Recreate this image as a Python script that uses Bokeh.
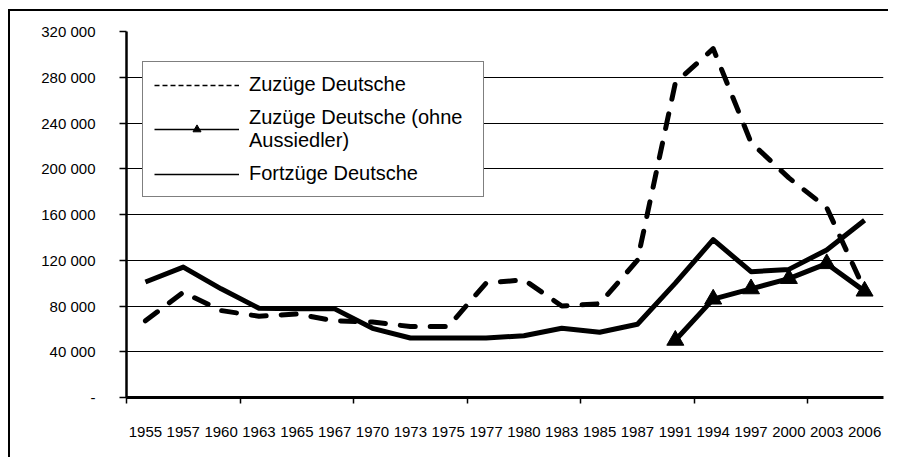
from bokeh.plotting import figure
from bokeh.models import (Range1d, LinearAxis, FixedTicker,
                          Legend, LegendItem, ColumnDataSource, Grid)
from bokeh.embed import file_html
from bokeh.resources import INLINE

# ---- data ----
years = ["1955", "1957", "1960", "1963", "1965", "1967", "1970", "1973", "1975", "1977",
         "1980", "1983", "1985", "1987", "1991", "1994", "1997", "2000", "2003", "2006"]
zuzuege_deutsche = [67000, 92000, 76000, 71000, 73000, 67000, 66000, 62000, 62000, 100000,
                    103000, 80000, 82000, 120000, 275000, 305000, 223000, 192000, 166000, 94000]
fortzuege_deutsche = [101000, 114000, 95000, 78000, 77500, 77500, 60500, 52000, 52000, 52000,
                      54000, 60500, 57000, 64000, 100000, 138000, 110000, 112000, 129000, 155000]
ohne_years = ["1991", "1994", "1997", "2000", "2003", "2006"]
zuzuege_ohne_aussiedler = [50000, 86000, 95000, 104000, 117000, 93000]

y_ticks = [0, 40000, 80000, 120000, 160000, 200000, 240000, 280000, 320000]
y_tick_labels = ["-", "40 000", "80 000", "120 000", "160 000", "200 000",
                 "240 000", "280 000", "320 000"]
legend_labels = ["Zuzüge Deutsche", "Zuzüge Deutsche (ohne\nAussiedler)", "Fortzüge Deutsche"]

FONT = "Liberation Sans"
NAN = float("nan")

# categories are laid out as slots 0..N, each category at the slot centre
n = len(years)
x_center = [i + 0.5 for i in range(n)]
ohne_x = [years.index(y) + 0.5 for y in ohne_years]

p = figure(width=880, height=448,
           x_range=Range1d(0, n), y_range=Range1d(y_ticks[0], y_ticks[-1]),
           output_backend="svg", toolbar_location=None,
           x_axis_location=None, y_axis_location=None,
           min_border_left=116, min_border_right=7, min_border_top=20, min_border_bottom=62)
p.outline_line_color = None
p.background_fill_color = "white"
p.border_fill_color = "white"
p.styles = {"margin-left": "8px", "margin-top": "9px",
            "border-left": "2px solid black", "border-top": "2px solid black"}
for g in p.grid:
    g.visible = False

# x axis: labels at category centres, tick marks (minor) at every 3rd category boundary
xaxis = LinearAxis(ticker=FixedTicker(ticks=x_center, minor_ticks=list(range(0, n, 3))),
                   major_label_overrides={x: y for x, y in zip(x_center, years)},
                   axis_line_width=3, axis_line_color="black",
                   major_tick_line_color=None, major_tick_out=0, major_tick_in=0,
                   minor_tick_line_color="black", minor_tick_line_width=1.5,
                   minor_tick_out=6, minor_tick_in=0,
                   major_label_standoff=23, major_label_text_font=FONT,
                   major_label_text_font_size="15px", major_label_text_color="black")
p.add_layout(xaxis, "below")

yaxis = LinearAxis(ticker=FixedTicker(ticks=y_ticks),
                   major_label_overrides={t: l for t, l in zip(y_ticks, y_tick_labels)},
                   axis_line_width=2.5, axis_line_color="black",
                   major_tick_out=7, major_tick_in=0, major_tick_line_width=1.5,
                   major_tick_line_color="black", minor_tick_line_color=None,
                   major_label_standoff=24, major_label_text_font=FONT,
                   major_label_text_font_size="15px", major_label_text_color="black")
p.add_layout(yaxis, "left")
p.add_layout(Grid(dimension=1, ticker=yaxis.ticker, grid_line_color="black", grid_line_width=1))

src = ColumnDataSource(dict(x=x_center, zuz=zuzuege_deutsche, fort=fortzuege_deutsche))
src2 = ColumnDataSource(dict(x=ohne_x, val=zuzuege_ohne_aussiedler))

p.line("x", "zuz", source=src, line_width=5, line_color="black",
       line_dash="15 15", line_cap="round", line_join="round")
p.line("x", "fort", source=src, line_width=5, line_color="black", line_join="round")
p.line("x", "val", source=src2, line_width=5, line_color="black", line_join="round")
p.scatter("x", "val", source=src2, marker="triangle", size=17,
          fill_color="black", line_color="black")

# thin legend samples (renderers with no visible data)
leg_zuz = p.line(x=[NAN], y=[NAN], line_width=1.5, line_color="black", line_dash="5 3")
leg_ohne_l = p.line(x=[NAN], y=[NAN], line_width=1.5, line_color="black")
leg_ohne_m = p.scatter(x=[NAN], y=[NAN], marker="triangle", size=12,
                       fill_color="black", line_color="black")
leg_fort = p.line(x=[NAN], y=[NAN], line_width=1.5, line_color="black")

legend = Legend(items=[LegendItem(label=legend_labels[0], renderers=[leg_zuz]),
                       LegendItem(label=legend_labels[1], renderers=[leg_ohne_l, leg_ohne_m]),
                       LegendItem(label=legend_labels[2], renderers=[leg_fort])],
                location=(16, 200), padding=11, spacing=10, glyph_width=85, glyph_height=20,
                label_standoff=10, label_width=223,
                label_text_font=FONT, label_text_font_size="20px",
                label_text_color="black", border_line_color="black", border_line_width=1,
                background_fill_color="white", background_fill_alpha=1, margin=0)
p.add_layout(legend)

open("out.html", "w").write(file_html(p, INLINE))
